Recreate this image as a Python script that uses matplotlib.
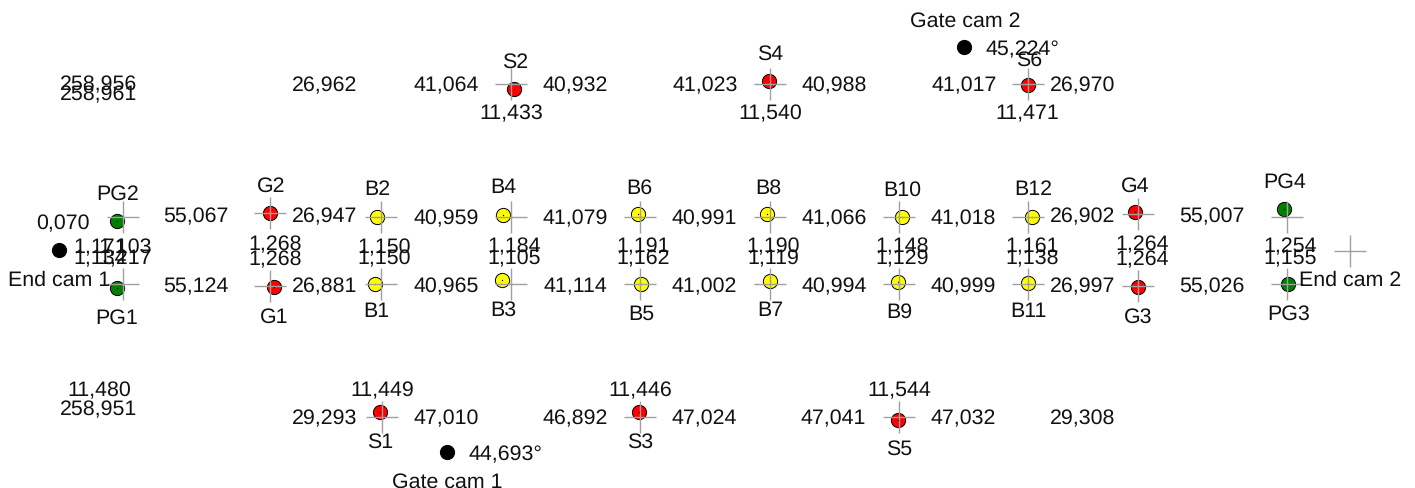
import matplotlib
matplotlib.use('Agg')
import matplotlib.pyplot as plt

plt.rcParams['font.family'] = ['Liberation Sans', 'DejaVu Sans']
plt.rcParams['text.hinting'] = 'no_hinting'

# all positions, in pixels from the top left
red_x = [270, 274, 1135, 1138, 380, 514, 639, 769, 898, 1028]
red_y = [213.5, 288, 213, 287.5, 413, 90, 413, 82, 421, 86]

yellow_x = [377, 375, 503, 502, 638, 641, 767, 770, 902, 898, 1032, 1028]
yellow_y = [218, 284.5, 215.5, 281, 214.5, 285, 214.5, 281.5, 218, 283, 218, 284]

green_x = [117, 117, 1284, 1288]
green_y = [222, 289, 210, 285]

black_x = [59, 447, 964]
black_y = [251, 453, 48]

cross_x = [123, 123, 270, 270, 381, 381, 511, 511, 640, 640, 770, 770, 899, 899,
           1028, 1028, 1138, 1138, 1287, 1287, 1350, 382, 640, 899, 511, 770, 1028]
cross_y = [218, 285, 214, 287, 218, 285, 218, 285, 218, 285, 218, 285, 218, 285,
           218, 285, 215, 287, 218, 285, 252, 418, 418, 418, 85, 85, 85]

names = ['PG2', 'PG1', 'G2', 'G1', 'B2', 'B1', 'B4', 'B3', 'B6', 'B5', 'B8', 'B7', 'B10', 'B9',
         'B12', 'B11', 'G4', 'G3', 'PG4', 'PG3', 'S1', 'S2', 'S3', 'S4', 'S5', 'S6',
         'End cam 1', 'End cam 2', 'Gate cam 1', 'Gate cam 2']
names_x = [118, 117, 271, 274, 377, 376, 503, 503, 639, 641, 768, 770, 902, 899,
           1033, 1028, 1135, 1138, 1285, 1289, 380, 515, 640, 770, 899, 1029,
           59, 1350, 447, 965]
names_y = [193, 317, 185, 316, 189, 311, 187, 309, 187, 313, 187, 310, 189, 311,
           189, 311, 185, 316, 181, 313, 441, 61, 441, 53, 448, 59,
           279, 279, 481, 20]

# horizontal gaps between the bolts
top_gaps = ['26,962', '41,064', '40,932', '41,023', '40,988', '41,017', '26,970']
top_gaps_x = [325, 446, 575, 705, 834, 964, 1083]
top_gaps_y = [84, 84, 84, 84, 84, 84, 84]

upper_gaps = ['0,070', '55,067', '26,947', '40,959', '41,079', '40,991', '41,066', '41,018', '26,902', '55,007']
upper_gaps_x = [63, 196, 325, 446, 575, 704, 834, 963, 1083, 1212]
upper_gaps_y = [222, 215, 215, 217, 217, 217, 217, 217, 215, 215]

lower_gaps = ['55,124', '26,881', '40,965', '41,114', '41,002', '40,994', '40,999', '26,997', '55,026']
lower_gaps_x = [196, 325, 446, 575, 704, 834, 963, 1083, 1212]
lower_gaps_y = [285, 285, 285, 285, 285, 285, 285, 285, 285]

bottom_gaps = ['29,293', '47,010', '46,892', '47,024', '47,041', '47,032', '29,308']
bottom_gaps_x = [325, 446, 575, 704, 833, 963, 1083]
bottom_gaps_y = [417, 417, 417, 417, 417, 417, 417]

# the overlapping values in the middle
mid_upper = ['1,171', '1,103', '1,268', '1,150', '1,184', '1,191', '1,190', '1,148', '1,161', '1,264', '1,254']
mid_upper_x = [100, 125, 275, 384, 514, 643, 773, 902, 1032, 1142, 1290]
mid_upper_y = [246, 246, 243, 246, 245, 245, 245, 245, 245, 243, 245]

mid_lower = ['1,134', '1,217', '1,268', '1,150', '1,105', '1,162', '1,119', '1,129', '1,138', '1,264', '1,155']
mid_lower_x = [100, 125, 275, 384, 514, 643, 773, 902, 1032, 1142, 1290]
mid_lower_y = [257, 257, 258, 257, 257, 257, 257, 257, 257, 258, 257]

# values above and below the S bolts, the corner totals and the cam angles
other = ['258,956', '258,961', '11,433', '11,540', '11,471', '11,480', '258,951',
         '11,449', '11,446', '11,544', '45,224°', '44,693°']
other_x = [99, 99, 511, 770, 1027, 99, 99, 382, 640, 899, 1022, 505]
other_y = [83, 93, 112, 112, 112, 389, 408, 389, 389, 389, 48, 453]

W, H = 1415, 489
fig = plt.figure(figsize=(W / 100, H / 100), dpi=100)
ax = fig.add_axes([0, 0, 1, 1])
ax.set_xlim(0, W)
ax.set_ylim(H, 0)
ax.axis('off')

all_x = red_x + yellow_x + green_x
all_y = red_y + yellow_y + green_y

ax.scatter(red_x, red_y, s=105, c='#ff0000', edgecolors='black', linewidths=0.7, zorder=2)
ax.scatter(yellow_x, yellow_y, s=105, c='#ffff00', edgecolors='black', linewidths=0.7, zorder=2)
ax.scatter(green_x, green_y, s=105, c='#008000', edgecolors='black', linewidths=0.7, zorder=2)
ax.scatter(black_x, black_y, s=105, c='black', edgecolors='black', linewidths=0.7, zorder=2)
ax.scatter(all_x, all_y, s=1, c='black', linewidths=0, zorder=3)

ax.plot(cross_x, cross_y, linestyle='none', marker='+', markersize=22.5,
        markeredgewidth=1.0, color='#a0a0a0', zorder=4)

groups = [(top_gaps, top_gaps_x, top_gaps_y),
          (upper_gaps, upper_gaps_x, upper_gaps_y),
          (lower_gaps, lower_gaps_x, lower_gaps_y),
          (bottom_gaps, bottom_gaps_x, bottom_gaps_y),
          (mid_upper, mid_upper_x, mid_upper_y),
          (mid_lower, mid_lower_x, mid_lower_y),
          (other, other_x, other_y)]

# names have no comma, so va=center sits them differently from the numbers
for label, x, y in zip(names, names_x, names_y):
    ax.text(x, y + 1, label, ha='center', va='center', fontsize=15.4, color='#111111', zorder=5)

for labels, xs, ys in groups:
    for label, x, y in zip(labels, xs, ys):
        ax.text(x, y + 2, label, ha='center', va='center', fontsize=15.4, color='#111111', zorder=5)

fig.savefig('out.png', dpi=100)
